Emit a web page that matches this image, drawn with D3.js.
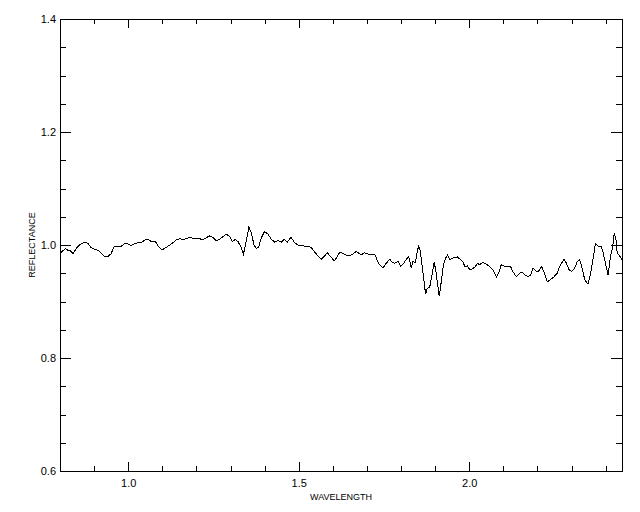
<!DOCTYPE html>
<html>
<head>
<meta charset="utf-8">
<script src="https://cdn.jsdelivr.net/npm/d3@7"></script>
<style>
  body { margin: 0; background: #fff; }
  text { font-family: "Liberation Sans", Arial, sans-serif; fill: #000; }
</style>
</head>
<body>
<div id="chart-area"></div>
<script>
// spectrum
var wavelength = [0.800, 0.809, 0.816, 0.824, 0.829, 0.838, 0.848, 0.858, 0.872, 0.882,
	0.892, 0.902, 0.911, 0.921, 0.931, 0.939, 0.949, 0.960, 0.968, 0.980,
	0.990, 0.999, 1.007, 1.019, 1.029, 1.039, 1.050, 1.058, 1.068, 1.080,
	1.089, 1.099, 1.109, 1.122, 1.131, 1.141, 1.151, 1.161, 1.171, 1.180,
	1.190, 1.200, 1.210, 1.219, 1.229, 1.239, 1.249, 1.258, 1.268, 1.278,
	1.288, 1.298, 1.305, 1.314, 1.322, 1.330, 1.338, 1.346, 1.354, 1.361,
	1.369, 1.376, 1.383, 1.390, 1.400, 1.410, 1.420, 1.430, 1.439, 1.449,
	1.457, 1.467, 1.477, 1.488, 1.498, 1.510, 1.519, 1.529, 1.539, 1.549,
	1.559, 1.566, 1.576, 1.584, 1.594, 1.604, 1.613, 1.617, 1.623, 1.630,
	1.640, 1.650, 1.659, 1.669, 1.677, 1.684, 1.693, 1.703, 1.713, 1.723,
	1.731, 1.737, 1.747, 1.757, 1.767, 1.774, 1.781, 1.791, 1.799, 1.806,
	1.816, 1.823, 1.830, 1.835, 1.842, 1.848, 1.852, 1.857, 1.862, 1.867,
	1.872, 1.877, 1.884, 1.891, 1.897, 1.902, 1.907, 1.912, 1.918, 1.924,
	1.930, 1.936, 1.943, 1.950, 1.957, 1.965, 1.973, 1.981, 1.987, 1.995,
	2.002, 2.010, 2.018, 2.024, 2.030, 2.040, 2.050, 2.060, 2.070, 2.080,
	2.086, 2.094, 2.104, 2.114, 2.122, 2.128, 2.138, 2.148, 2.156, 2.163,
	2.172, 2.180, 2.187, 2.194, 2.202, 2.212, 2.219, 2.229, 2.239, 2.249,
	2.258, 2.265, 2.272, 2.278, 2.285, 2.292, 2.300, 2.309, 2.317, 2.324,
	2.331, 2.339, 2.348, 2.356, 2.363, 2.370, 2.378, 2.386, 2.392, 2.399,
	2.407, 2.415, 2.421, 2.425, 2.430, 2.434, 2.441, 2.448];

var reflectance = [0.985, 0.990, 0.994, 0.990, 0.991, 0.985, 0.994, 1.001, 1.005, 1.003,
	0.995, 0.992, 0.991, 0.985, 0.979, 0.979, 0.984, 0.998, 0.997, 0.998,
	1.003, 1.002, 0.999, 1.002, 1.004, 1.005, 1.009, 1.010, 1.006, 1.006,
	0.997, 0.991, 0.995, 1.000, 1.004, 1.009, 1.011, 1.010, 1.011, 1.014,
	1.012, 1.011, 1.011, 1.009, 1.013, 1.016, 1.013, 1.008, 1.010, 1.015,
	1.019, 1.015, 1.006, 1.010, 1.006, 0.997, 0.984, 1.006, 1.032, 1.021,
	1.000, 0.994, 0.997, 1.012, 1.024, 1.019, 1.010, 1.005, 1.008, 1.005,
	1.010, 1.005, 1.014, 1.004, 1.000, 1.000, 0.997, 0.998, 0.994, 0.986,
	0.979, 0.975, 0.981, 0.986, 0.979, 0.972, 0.979, 0.985, 0.987, 0.985,
	0.982, 0.981, 0.984, 0.989, 0.985, 0.983, 0.986, 0.984, 0.984, 0.984,
	0.971, 0.965, 0.959, 0.968, 0.975, 0.969, 0.968, 0.971, 0.963, 0.966,
	0.975, 0.979, 0.959, 0.971, 0.969, 0.990, 0.998, 0.988, 0.962, 0.938,
	0.913, 0.923, 0.925, 0.947, 0.969, 0.956, 0.932, 0.909, 0.935, 0.963,
	0.976, 0.982, 0.974, 0.976, 0.978, 0.979, 0.975, 0.971, 0.962, 0.963,
	0.956, 0.958, 0.962, 0.968, 0.965, 0.969, 0.966, 0.962, 0.956, 0.943,
	0.950, 0.965, 0.962, 0.962, 0.961, 0.953, 0.944, 0.950, 0.952, 0.947,
	0.944, 0.947, 0.959, 0.955, 0.952, 0.962, 0.953, 0.935, 0.939, 0.944,
	0.950, 0.962, 0.969, 0.975, 0.968, 0.957, 0.953, 0.959, 0.971, 0.974,
	0.959, 0.938, 0.931, 0.950, 0.975, 1.002, 0.998, 0.998, 0.988, 0.969,
	0.947, 0.982, 0.997, 1.021, 1.012, 0.985, 0.981, 0.974];

var xMajorTicks = [1.0, 1.5, 2.0];
var xMinorTicks = [0.9, 1.1, 1.2, 1.3, 1.4, 1.6, 1.7, 1.8, 1.9, 2.1, 2.2, 2.3, 2.4];
var yMajorTicks = [0.6, 0.8, 1.0, 1.2, 1.4];
var yMinorTicks = [0.65, 0.7, 0.75, 0.85, 0.9, 0.95, 1.05, 1.1, 1.15, 1.25, 1.3, 1.35];

var plot = { left: 60, right: 622, top: 19, bottom: 471 };

var svg = d3.select("#chart-area")
	.append("svg")
	.attr("width", 640)
	.attr("height", 512);

svg.append("rect").attr("width", 640).attr("height", 512).attr("fill", "#fff");

var xScale = d3.scaleLinear()
	.domain([0.8, 2.448])
	.range([plot.left, plot.right]);

var yScale = d3.scaleLinear()
	.domain([0.6, 1.4])
	.range([plot.bottom, plot.top]);

var fmt = d3.format(".1f");

// bottom axis, labelled
var bottomG = svg.append("g").attr("transform", "translate(0," + plot.bottom + ")");
bottomG.call(d3.axisBottom(xScale).tickValues(xMajorTicks).tickFormat(fmt)
	.tickSizeInner(-9).tickSizeOuter(0).tickPadding(8));
bottomG.append("g").call(d3.axisBottom(xScale).tickValues(xMinorTicks).tickFormat("")
	.tickSizeInner(-5).tickSizeOuter(0));

// top axis, ticks only
var topG = svg.append("g").attr("transform", "translate(0," + plot.top + ")");
topG.call(d3.axisTop(xScale).tickValues(xMajorTicks).tickFormat("")
	.tickSizeInner(-9).tickSizeOuter(0));
topG.append("g").call(d3.axisTop(xScale).tickValues(xMinorTicks).tickFormat("")
	.tickSizeInner(-5).tickSizeOuter(0));

// left axis, labelled
var leftG = svg.append("g").attr("transform", "translate(" + plot.left + ",0)");
leftG.call(d3.axisLeft(yScale).tickValues(yMajorTicks).tickFormat(fmt)
	.tickSizeInner(-11).tickSizeOuter(0).tickPadding(4));
leftG.append("g").call(d3.axisLeft(yScale).tickValues(yMinorTicks).tickFormat("")
	.tickSizeInner(-6).tickSizeOuter(0));

// right axis, ticks only
var rightG = svg.append("g").attr("transform", "translate(" + plot.right + ",0)");
rightG.call(d3.axisRight(yScale).tickValues(yMajorTicks).tickFormat("")
	.tickSizeInner(-11).tickSizeOuter(0));
rightG.append("g").call(d3.axisRight(yScale).tickValues(yMinorTicks).tickFormat("")
	.tickSizeInner(-6).tickSizeOuter(0));

svg.selectAll(".domain, .tick line")
	.attr("stroke", "#000")
	.attr("shape-rendering", "crispEdges");

svg.selectAll(".tick text")
	.attr("font-family", "'Liberation Sans', Arial, sans-serif")
	.attr("font-size", "11px")
	.attr("fill", "#000");

svg.append("text")
	.attr("x", (plot.left + plot.right) / 2)
	.attr("y", 500)
	.attr("text-anchor", "middle")
	.attr("font-size", "9px")
	.text("WAVELENGTH");

svg.append("text")
	.attr("x", -(plot.top + plot.bottom) / 2)
	.attr("y", 35)
	.attr("transform", "rotate(-90)")
	.attr("text-anchor", "middle")
	.attr("font-size", "9px")
	.text("REFLECTANCE");

var spectrum = wavelength.map(function (w, i) {
	return { w: w, r: reflectance[i] };
});

var line = d3.line()
	.x(d => xScale(d.w))
	.y(d => yScale(d.r));

svg.append("path")
	.datum(spectrum)
	.attr("d", line)
	.attr("fill", "none")
	.attr("stroke", "#000")
	.attr("stroke-width", 1)
	.attr("shape-rendering", "crispEdges");
</script>
</body>
</html>
